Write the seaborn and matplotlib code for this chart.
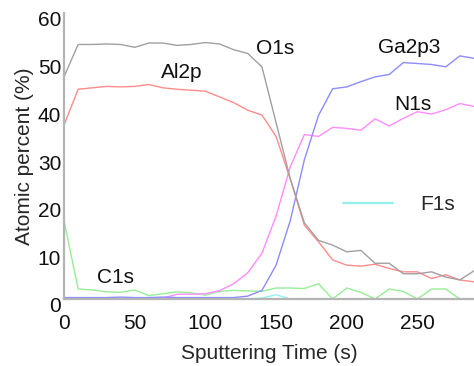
import numpy as np
import pandas as pd
import matplotlib
matplotlib.use("Agg")
import matplotlib.pyplot as plt
import matplotlib.transforms as mtransforms
from matplotlib.lines import Line2D
import seaborn as sns

time = list(range(0, 300, 10))
O1s = [46.6, 53.4, 53.4, 53.5, 53.4, 52.8, 53.7, 53.7, 53.2, 53.4, 53.8, 53.5, 52.3, 51.5, 48.7,
       37.0, 25.3, 16.0, 12.3, 11.3, 9.9, 10.2, 7.5, 7.5, 5.3, 5.3, 5.7, 4.6, 4.0, 5.9]
Al2p = [36.5, 44.0, 44.3, 44.6, 44.5, 44.6, 45.0, 44.3, 44.0, 43.8, 43.6, 42.4, 41.2, 39.6, 38.6,
        34.1, 25.2, 15.5, 12.0, 8.2, 7.1, 6.9, 7.3, 6.4, 5.7, 5.7, 4.3, 5.1, 4.0, 3.6]
Ga2p3 = [0.3, 0.3, 0.3, 0.3, 0.4, 0.3, 0.3, 0.4, 0.3, 0.3, 0.3, 0.3, 0.3, 0.6, 1.8,
         7.1, 16.4, 29.2, 38.5, 44.1, 44.5, 45.6, 46.6, 47.1, 49.6, 49.4, 49.2, 48.7, 51.0, 50.5]
N1s = [0.1, 0.1, 0.1, 0.1, 0.1, 0.1, 0.1, 0.2, 1.0, 1.0, 1.1, 1.75, 3.2, 5.5, 9.6,
       17.4, 27.7, 34.5, 34.1, 36.0, 35.8, 35.4, 37.8, 36.3, 37.9, 39.3, 38.8, 39.7, 41.0, 40.4]
C1s = [16.4, 2.1, 1.9, 1.5, 1.4, 1.9, 0.7, 1.1, 1.5, 1.3, 0.8, 1.6, 1.8, 1.7, 1.6,
       2.3, 2.3, 2.2, 3.2, 0.0, 2.3, 1.4, 0.0, 2.1, 1.6, 0.0, 2.1, 2.1, 0.0, 0.0]
F1s = [0.0, 0.0, 0.0, 0.0, 0.0, 0.0, 0.0, 0.0, 0.0, 0.0, 0.0, 0.0, 0.0, 0.0, 0.2,
       0.9, 0.0, 0.0, 0.0, 0.0, 0.0, 0.0, 0.0, 0.0, 0.0, 0.0, 0.0, 0.0, 0.0, 0.0]

series = {"O1s": O1s, "Al2p": Al2p, "Ga2p3": Ga2p3, "N1s": N1s, "C1s": C1s, "F1s": F1s}
colors = {"O1s": "#a0a0a0", "Al2p": "#ff8c8c", "Ga2p3": "#8c8cff", "N1s": "#ff8cff",
          "C1s": "#96ee96", "F1s": "#90f0f0"}
x_ticks = [0, 50, 100, 150, 200, 250]
y_ticks = [0, 10, 20, 30, 40, 50, 60]

sns.set_style("white")
plt.rcParams["font.family"] = ["Liberation Sans", "DejaVu Sans"]

fig = plt.figure(figsize=(4.74, 3.66), dpi=100)
ax = fig.add_axes([64 / 474, (366 - 299) / 366, 410 / 474, 286 / 366])

order = ["F1s", "C1s", "N1s", "Ga2p3", "Al2p", "O1s"]
for name in order:
    df = pd.DataFrame({"t": time, "v": series[name]})
    sns.lineplot(data=df, x="t", y="v", ax=ax, color=colors[name], linewidth=1.0,
                 legend=False, clip_on=False)

ax.set_xlim(0, 290)
ax.set_ylim(0, 60)
ax.set_xticks(x_ticks)
ax.set_yticks(y_ticks)
ax.set_xlabel("Sputtering Time (s)", fontsize=15, labelpad=8)
ax.set_ylabel("Atomic percent (%)", fontsize=15, labelpad=3)

for s in ["top", "right"]:
    ax.spines[s].set_visible(False)
for s in ["left", "bottom"]:
    ax.spines[s].set_color("#b4b4b4")
    ax.spines[s].set_linewidth(1.6)

ax.tick_params(axis="both", direction="in", length=3, width=0.8, color="#b4b4b4",
               labelsize=15, labelcolor="#111111")
ax.tick_params(axis="x", pad=11)
ax.tick_params(axis="y", pad=2)
offset = mtransforms.ScaledTranslation(0, -6 / 100, fig.dpi_scale_trans)
for lab in ax.get_yticklabels():
    lab.set_transform(lab.get_transform() + offset)

txt_kw = dict(fontsize=15, ha="center", va="center", color="#111111")
ax.text(149.4, 52.6, "O1s", **txt_kw)
ax.text(83.6, 47.6, "Al2p", **txt_kw)
ax.text(244.3, 52.8, "Ga2p3", **txt_kw)
ax.text(246.5, 40.7, "N1s", **txt_kw)
ax.text(36.1, 4.6, "C1s", **txt_kw)

handle = Line2D([], [], color=colors["F1s"], linewidth=1.6)
ax.legend([handle], ["F1s"], loc="center left", bbox_to_anchor=((343 - 64) / 410, (299 - 205) / 286),
          frameon=False, fontsize=15, handlelength=2.4, handletextpad=1.3, borderpad=0,
          borderaxespad=0)

fig.savefig("out.png", dpi=100)
